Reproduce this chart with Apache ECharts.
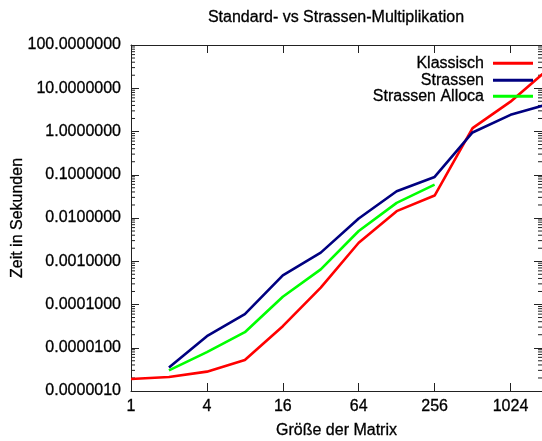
<!DOCTYPE html>
<html><head><meta charset="utf-8">
<script src="https://cdn.jsdelivr.net/npm/echarts@6/dist/echarts.min.js"></script>
<style>html,body{margin:0;padding:0;background:#fff}#c{width:542px;height:441px}</style>
</head><body><div id="c"></div>
<script>
const chartTitle = 'Standard- vs Strassen-Multiplikation';
const xName = 'Größe der Matrix';
const yName = 'Zeit in Sekunden';
const seriesNames = ['Klassisch', 'Strassen', 'Strassen Alloca'];
const seriesColors = ['#ff0000', '#000080', '#00ff00'];

const sizesKlassisch = [1, 2, 4, 8, 16, 32, 64, 128, 256, 512, 1024, 2048];
const timesKlassisch = [1.9e-6, 2.1e-6, 2.8e-6, 5.2e-6, 3.15e-5, 2.46e-4, 2.68e-3, 1.44e-2, 3.3e-2, 1.2, 4.9, 28];

const sizesStrassen = [2, 4, 8, 16, 32, 64, 128, 256, 512, 1024, 2048];
const timesStrassen = [3.5e-6, 1.85e-5, 6.0e-5, 4.7e-4, 1.58e-3, 9.75e-3, 4.15e-2, 8.9e-2, 0.95, 2.43, 4.3];

const sizesAlloca = [2, 4, 8, 16, 32, 64, 128, 256];
const timesAlloca = [3.0e-6, 7.9e-6, 2.29e-5, 1.51e-4, 6.5e-4, 5.0e-3, 2.24e-2, 5.9e-2];

const xMin = 1, xMax = 1820;
const yMin = 1e-6, yMax = 100;
const minorMultipliers = [2, 3, 4, 5, 6, 7, 8, 9];
const minorDecades = [-6, -5, -4, -3, -2, -1, 0, 1];

const FONT = "'Liberation Sans', Arial, sans-serif";
const TXT = {fontFamily: FONT, fontSize: 16, color: '#000', textBorderColor: '#000', textBorderWidth: 0.3};
const zip = (xs, ys) => xs.map((x, i) => [x, ys[i]]);

const minorTicks = [];
minorDecades.forEach(d => minorMultipliers.forEach(m => minorTicks.push([xMin, m * Math.pow(10, d)])));

const chart = echarts.init(document.getElementById('c'), null, {renderer: 'canvas'});
const axisLineStyle = {color: '#222', width: 1};
const lineSeries = (name, data, color) => ({
  name, type: 'line', data, showSymbol: false, symbol: 'none',
  lineStyle: {color, width: 2.6}, itemStyle: {color}, clip: true, z: 3, animation: false
});
const legendFor = (name, color, top) => ({
  data: [name], orient: 'vertical', right: 9, top, align: 'right',
  icon: 'rect', itemWidth: 40, itemHeight: 3, padding: 0,
  textStyle: Object.assign({}, TXT, {padding: [0, 4, 0, 0]}),
  itemStyle: {color}
});

chart.setOption({
  animation: false,
  backgroundColor: '#fff',
  title: {
    text: chartTitle, left: 336, top: 10, textAlign: 'center', padding: 0,
    textStyle: Object.assign({}, TXT, {fontWeight: 'normal'})
  },
  legend: [
    legendFor(seriesNames[0], seriesColors[0], 55),
    legendFor(seriesNames[1], seriesColors[1], 72),
    legendFor(seriesNames[2], seriesColors[2], 88)
  ],
  grid: {left: 131, right: 0, top: 45, bottom: 50, containLabel: false, outerBoundsMode: 'none'},
  xAxis: [{
    type: 'log', logBase: 4, min: xMin, max: xMax, position: 'bottom',
    name: xName, nameLocation: 'middle', nameGap: 32, nameMoveOverlap: false,
    nameTextStyle: TXT,
    axisLine: {show: true, lineStyle: axisLineStyle},
    axisTick: {show: true, inside: true, length: 8, lineStyle: axisLineStyle},
    axisLabel: Object.assign({}, TXT, {margin: 8, showMaxLabel: false,
      formatter: v => { const k = Math.log(v) / Math.log(4); return Math.abs(k - Math.round(k)) < 1e-6 ? String(Math.round(v)) : ''; }}),
    splitLine: {show: false}
  }, {
    type: 'log', logBase: 4, min: xMin, max: xMax, position: 'top',
    axisLine: {show: true, lineStyle: axisLineStyle},
    axisTick: {show: true, inside: true, length: 8, lineStyle: axisLineStyle},
    axisLabel: {show: false}, splitLine: {show: false}
  }],
  yAxis: [{
    type: 'log', logBase: 10, min: yMin, max: yMax, position: 'left',
    name: yName, nameLocation: 'middle', nameGap: 105, nameMoveOverlap: false,
    nameTextStyle: TXT,
    axisLine: {show: true, lineStyle: axisLineStyle},
    axisTick: {show: true, inside: true, length: 8, lineStyle: axisLineStyle},
    axisLabel: Object.assign({}, TXT, {margin: 10, formatter: v => v.toFixed(7)}),
    splitLine: {show: false}
  }, {
    type: 'log', logBase: 10, min: yMin, max: yMax, position: 'right',
    axisLine: {show: true, lineStyle: axisLineStyle},
    axisTick: {show: true, inside: true, length: 8, lineStyle: axisLineStyle},
    axisLabel: {show: false}, splitLine: {show: false}
  }],
  series: [
    lineSeries(seriesNames[0], zip(sizesKlassisch, timesKlassisch), seriesColors[0]),
    lineSeries(seriesNames[1], zip(sizesStrassen, timesStrassen), seriesColors[1]),
    lineSeries(seriesNames[2], zip(sizesAlloca, timesAlloca), seriesColors[2]),
    {
      type: 'custom', silent: true, data: minorTicks, z: 1,
      renderItem: (params, api) => {
        const l = api.coord([xMin, api.value(1)]);
        const r = api.coord([xMax, api.value(1)]);
        const st = {stroke: '#222', lineWidth: 1};
        return {type: 'group', children: [
          {type: 'line', shape: {x1: l[0], y1: l[1], x2: l[0] + 4, y2: l[1]}, style: st},
          {type: 'line', shape: {x1: r[0], y1: r[1], x2: r[0] - 4, y2: r[1]}, style: st}
        ]};
      }
    }
  ]
});
</script></body></html>
